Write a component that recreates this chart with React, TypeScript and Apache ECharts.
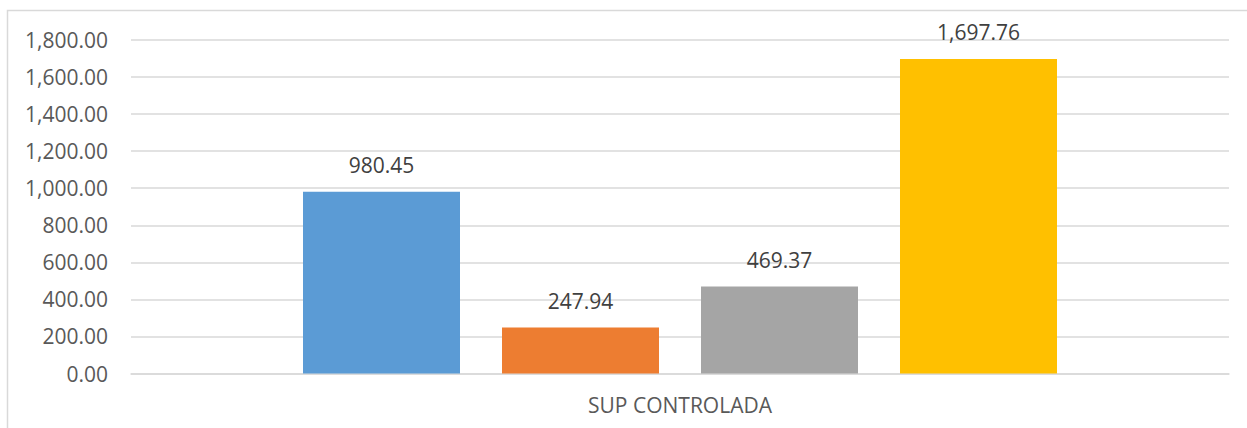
import React, { useEffect, useRef } from "react";
import * as echarts from "echarts";

const categories = ["SUP CONTROLADA"];
const seriesNames = ["Serie 1", "Serie 2", "Serie 3", "Serie 4"];
const seriesValues = [980.45, 247.94, 469.37, 1697.76];
const seriesColors = ["#5b9bd5", "#ed7d31", "#a5a5a5", "#ffc000"];

const fmt = (v: number) =>
  v.toLocaleString("en-US", { minimumFractionDigits: 2, maximumFractionDigits: 2 });

export default function App() {
  const ref = useRef<HTMLDivElement>(null);
  useEffect(() => {
    const chart = echarts.init(ref.current!, null, { renderer: "svg" });
    const font = "'Open Sans', sans-serif";
    chart.setOption({
      animation: false,
      backgroundColor: "#ffffff",
      textStyle: { fontFamily: font },
      graphic: [
        {
          type: "rect",
          shape: { x: 7.5, y: 10.5, width: 1400, height: 600 },
          style: { fill: "none", stroke: "#d9d9d9", lineWidth: 1.5 },
          silent: true,
        },
      ],
      grid: { left: 131, right: 18, top: 40, bottom: 54.5, containLabel: false },
      xAxis: {
        type: "category",
        data: categories,
        axisLine: { show: true, lineStyle: { color: "#d9d9d9", width: 1.5 } },
        axisTick: { show: false },
        axisLabel: { color: "#595959", fontSize: 21, fontFamily: font, margin: 21 },
      },
      yAxis: {
        type: "value",
        min: 0,
        max: 1800,
        interval: 200,
        axisLine: { show: false },
        axisTick: { show: false },
        splitLine: { lineStyle: { color: "#d9d9d9", width: 1.5 } },
        axisLabel: {
          color: "#595959",
          fontSize: 21,
          fontFamily: font,
          margin: 23,
          formatter: (v: number) => fmt(v),
        },
      },
      series: seriesValues.map((v, i) => ({
        name: seriesNames[i],
        type: "bar",
        data: [v],
        barWidth: 157,
        barGap: "26.75%",
        itemStyle: { color: seriesColors[i] },
        label: {
          show: true,
          position: "top",
          distance: 16,
          color: "#404040",
          fontSize: 21,
          fontFamily: font,
          formatter: (p: any) => fmt(p.value),
        },
      })),
    });
    return () => chart.dispose();
  }, []);
  return (
    <div
      ref={ref}
      style={{ position: "absolute", left: 0, top: 0, width: 1247, height: 428 }}
    />
  );
}
